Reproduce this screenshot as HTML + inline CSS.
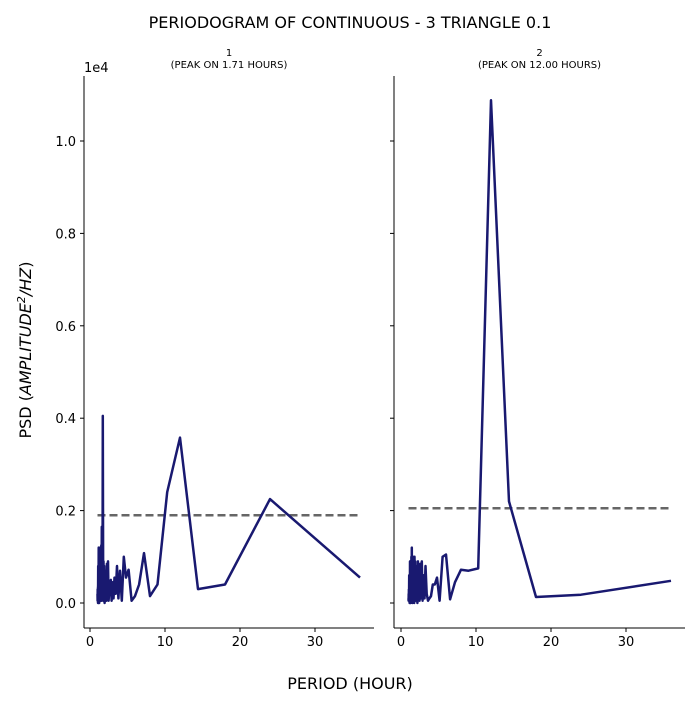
<!DOCTYPE html>
<html><head><meta charset="utf-8"><style>
body{margin:0;background:#fff;}
svg text{font-family:"DejaVu Sans","Liberation Sans",sans-serif;fill:#000;}
</style></head><body>
<svg id="c" width="700" height="700"></svg>
<script>
const periods = [36,24,18,14.4,12,10.29,9,8,7.2,6.55,6,5.54,5.14,4.8,4.5,4.24,4,3.79,3.6,3.43,3.27,3.13,3,2.88,2.77,2.67,2.57,2.48,2.4,2.32,2.25,2.18,2.12,2.06,2,1.95,1.89,1.85,1.8,1.76,1.71,1.67,1.64,1.6,1.57,1.53,1.5,1.47,1.44,1.41,1.38,1.36,1.33,1.31,1.29,1.26,1.24,1.22,1.2,1.18,1.16,1.14,1.13,1.11,1.09,1.07,1.06,1.04,1.03,1.01,1.0];
const psd1 = [0.055,0.225,0.04,0.03,0.358,0.24,0.04,0.015,0.108,0.04,0.015,0.005,0.072,0.055,0.1,0.005,0.07,0.01,0.08,0.02,0.055,0.01,0.045,0.005,0.05,0.02,0.03,0.005,0.09,0.01,0.085,0.005,0.06,0.02,0.07,0.0,0.08,0.01,0.09,0.005,0.405,0.01,0.05,0.02,0.165,0.005,0.125,0.01,0.09,0.005,0.1,0.01,0.12,0.005,0.08,0.02,0.1,0.0,0.06,0.01,0.12,0.005,0.04,0.02,0.08,0.0,0.035,0.01,0.03,0.005,0.02];
const psd2 = [0.048,0.018,0.013,0.22,1.088,0.075,0.07,0.072,0.045,0.008,0.105,0.1,0.005,0.055,0.04,0.04,0.015,0.01,0.005,0.02,0.08,0.01,0.06,0.005,0.09,0.01,0.085,0.005,0.07,0.02,0.09,0.0,0.06,0.01,0.08,0.005,0.09,0.01,0.1,0.0,0.1,0.005,0.08,0.01,0.09,0.0,0.06,0.01,0.12,0.005,0.1,0.01,0.07,0.0,0.06,0.02,0.08,0.005,0.09,0.01,0.05,0.0,0.04,0.01,0.06,0.005,0.03,0.01,0.02,0.005,0.01];
const thresholds = [0.19, 0.205];
const titles = ["1","2"];
const peaks = ["(PEAK ON 1.71 HOURS)","(PEAK ON 12.00 HOURS)"];
const xTicks = [0,10,20,30];
const yTicks = [0,0.2,0.4,0.6,0.8,1.0];
const yTickLabels = ["0.0","0.2","0.4","0.6","0.8","1.0"];

const svg = document.getElementById('c');
const NS = 'http://www.w3.org/2000/svg';
function mk(tag, attrs, txt){const e=document.createElementNS(NS,tag);for(const k in attrs)e.setAttribute(k,attrs[k]);if(txt!==undefined)e.textContent=txt;svg.appendChild(e);return e;}

const panels=[{x0:84,x1:374,zx:90,series:psd1},{x0:394,x1:685,zx:401,series:psd2}];
const yTop=76,yBot=628;
const y=v=>603-v*462;

let t=mk('text',{x:350,y:28,'text-anchor':'middle','font-size':16},'PERIODOGRAM OF CONTINUOUS - 3 TRIANGLE 0.1');

t=mk('text',{x:350,y:689,'text-anchor':'middle','font-size':16},'PERIOD (HOUR)');

t=mk('text',{x:31,y:350,'text-anchor':'middle','font-size':16,transform:'rotate(-90 31 350)'});
t.innerHTML='PSD (<tspan font-style="italic">AMPLITUDE</tspan><tspan font-size="11" dy="-6" font-style="italic">2</tspan><tspan dy="6" font-style="italic">/HZ</tspan>)';

t=mk('text',{x:84,y:72,'font-size':13},'1e4');


panels.forEach((p,i)=>{
  const x=v=>p.zx+v*7.5;
  let a=mk('line',{x1:p.x0,y1:yTop,x2:p.x0,y2:yBot,stroke:'#000','stroke-width':1});
  
  a=mk('line',{x1:p.x0,y1:yBot,x2:p.x1,y2:yBot,stroke:'#000','stroke-width':1});
  
  xTicks.forEach(v=>{
    mk('line',{x1:x(v),y1:yBot,x2:x(v),y2:yBot+4,stroke:'#000'});
    const l=mk('text',{x:x(v),y:yBot+18,'text-anchor':'middle','font-size':13},String(v));
    
  });
  yTicks.forEach((v,j)=>{
    mk('line',{x1:p.x0-4,y1:y(v),x2:p.x0,y2:y(v),stroke:'#000'});
    if(i===0){const l=mk('text',{x:p.x0-8,y:y(v)+5,'text-anchor':'end','font-size':13},yTickLabels[j]);
    }
  });
  const cx=(p.x0+p.x1)/2;
  let s=mk('text',{x:cx,y:56,'text-anchor':'middle','font-size':10},titles[i]);
  
  s=mk('text',{x:cx,y:68,'text-anchor':'middle','font-size':10},peaks[i]);
  
  const d=mk('line',{x1:x(1),y1:y(thresholds[i]),x2:x(36),y2:y(thresholds[i]),stroke:'#666','stroke-width':2.5,'stroke-dasharray':'8,4'});
  
  const pts=periods.map((pp,k)=>x(pp).toFixed(1)+','+y(p.series[k]).toFixed(1)).join(' ');
  const pl=mk('polyline',{points:pts,fill:'none',stroke:'#191970','stroke-width':2.5,'stroke-linejoin':'round'});
  
});
</script>
</body></html>
